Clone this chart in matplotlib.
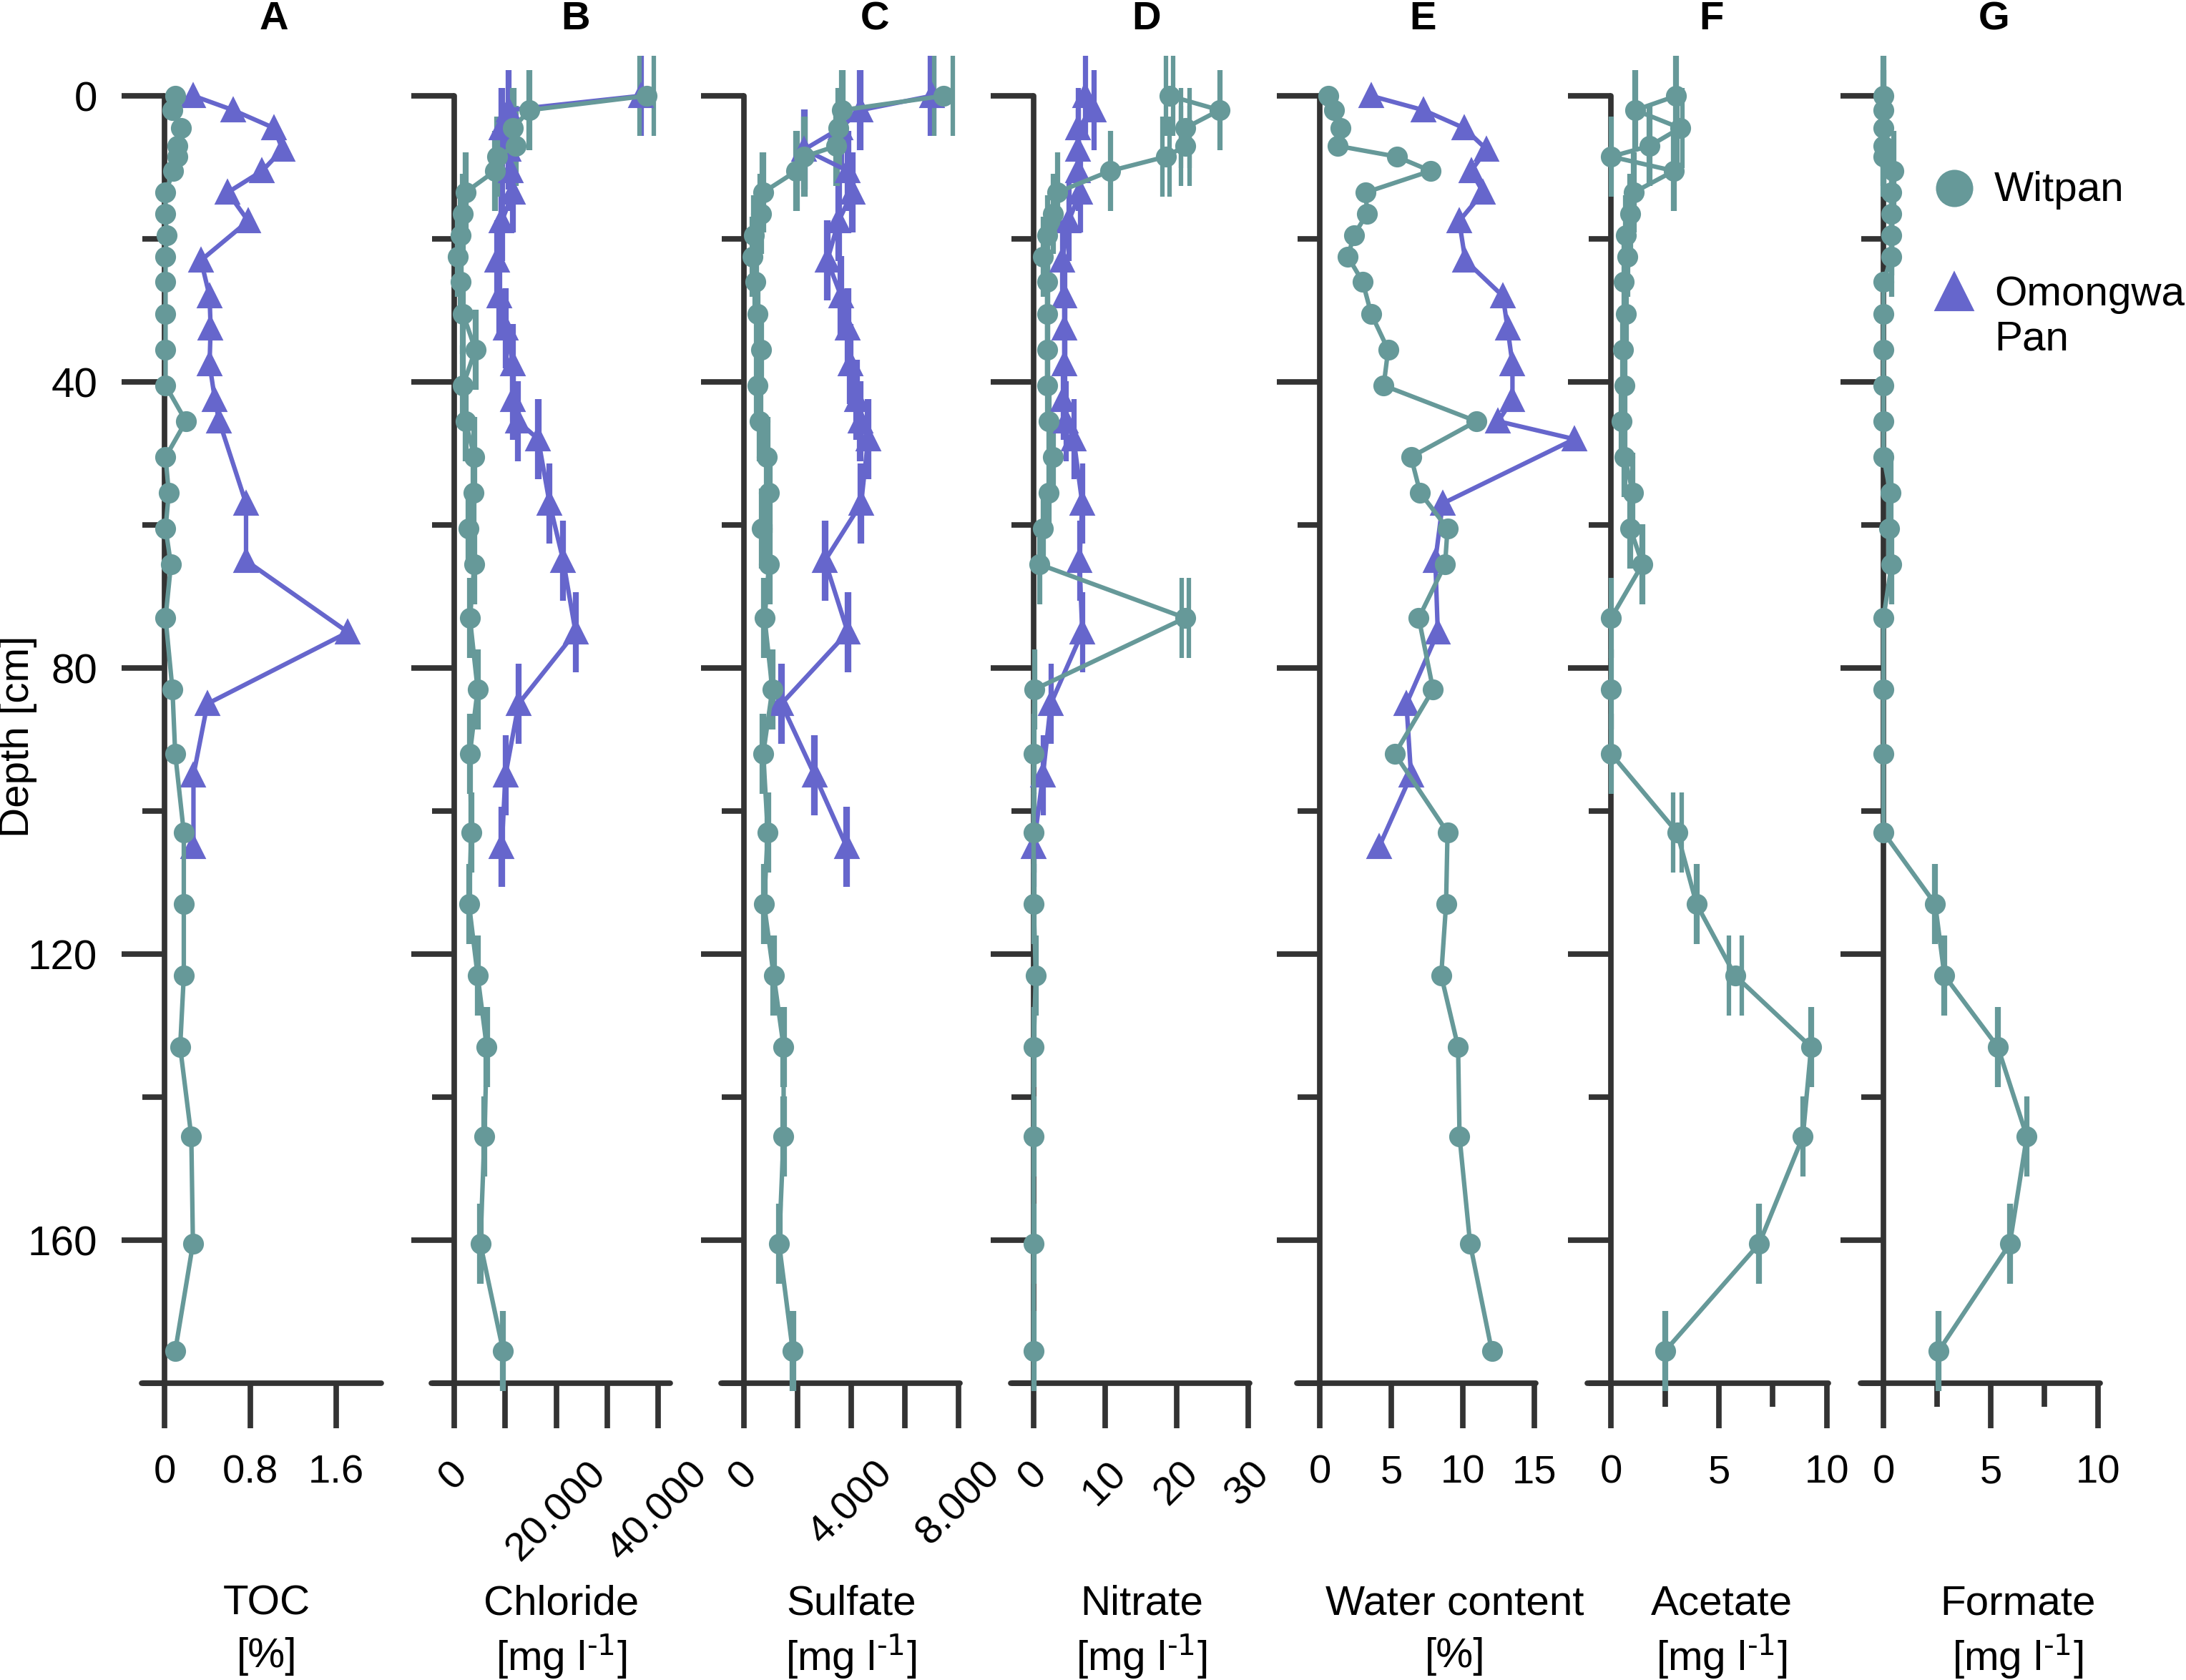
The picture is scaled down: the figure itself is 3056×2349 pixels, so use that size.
import numpy as np
import matplotlib
matplotlib.use("Agg")
import matplotlib.pyplot as plt
from matplotlib.lines import Line2D
from matplotlib.collections import LineCollection

plt.rcParams['font.family'] = ['Liberation Sans', 'DejaVu Sans']
plt.rcParams['mathtext.default'] = 'regular'

# depths [cm]
depth_wit = [0, 2, 4.5, 7, 8.5, 10.5, 13.5, 16.5, 19.5, 22.5, 26, 30.5, 35.5, 40.5, 45.5,
             50.5, 55.5, 60.5, 65.5, 73, 83, 92, 103, 113, 123, 133, 145.5, 160.5, 175.5]
depth_omo = [0, 2, 4.5, 7.5, 10.5, 13.5, 17.5, 23, 28, 32.5, 37.5, 42.5, 45.5, 48,
             57, 65, 75, 85, 95, 105]

# A  TOC [%]
toc_wit = [0.10, 0.074, 0.155, 0.117, 0.117, 0.083, 0.01, 0.01, 0.02, 0.01, 0.01, 0.01, 0.01, 0.01, 0.20,
           0.01, 0.04, 0.01, 0.06, 0.01, 0.074, 0.10, 0.18, 0.18, 0.18, 0.146, 0.25, 0.265, 0.10]
toc_omo = [0.27, 0.64, 1.02, 1.10, 0.91, 0.59, 0.78, 0.34, 0.42, 0.43, 0.42, 0.47, 0.51, np.nan,
           0.76, 0.76, 1.71, 0.40, 0.27, 0.27]

# B  Chloride [mg/l]
cl_wit = [37700, 14700, 11560, 12000, 8430, 8000, 2200, 1740, 1290, 670, 1290, 1740, 4150, 1740, 2200,
          3970, 3790, 2800, 3970, 3080, 4590, 3080, 3350, 2900, 4590, 6380, 5930, 5130, 9590]
cl_wit_err = [1340, 150, 150, 150, 150, 150, 150, 150, 150, 150, 150, 150, 150, 150, 150,
              150, 150, 150, 150, 150, 150, 150, 150, 150, 150, 150, 150, 150, 150]
cl_omo = [36570, 10660, 9320, 10660, 11100, 11550, 9320, 8430, 8880, 10040, 11550, 11550, 12440, 16460,
          18690, 21360, 23770, 12620, 10040, 9320]
cl_omo_err = [150, 150, 150, 150, 150, 150, 150, 150, 150, 150, 150, 150, 150, 150,
              150, 150, 150, 150, 150, 150]

# C  Sulfate [mg/l]
so4_wit = [7440, 3660, 3530, 3450, 2250, 1960, 720, 640, 380, 330, 430, 500, 640, 500, 600,
           860, 940, 670, 940, 770, 1060, 720, 890, 750, 1110, 1480, 1480, 1310, 1820]
so4_wit_err = [340, 40, 40, 40, 40, 40, 40, 40, 40, 40, 40, 40, 40, 40, 40,
               40, 40, 40, 40, 40, 40, 40, 40, 40, 40, 40, 40, 40, 40]
so4_omo = [7010, 4340, 3600, 2250, 3870, 4040, 3530, 3110, 3620, 3870, 3960, 4210, 4340, 4630,
           4370, 3020, 3870, 1400, 2640, 3830]
so4_omo_err = [85, 40, 40, 40, 40, 40, 40, 40, 40, 40, 40, 40, 40, 40,
               40, 40, 40, 40, 40, 40]

# D  Nitrate [mg/l]
no3_wit = [19.0, 26.0, 21.2, 21.2, 18.5, 10.7, 3.3, 2.7, 1.9, 1.3, 1.9, 1.9, 1.9, 1.9, 2.1,
           2.7, 2.1, 1.3, 0.8, 21.2, 0.1, 0, 0, 0, 0.3, 0, 0, 0, 0]
no3_wit_err = [0.48, 0.05, 0.64, 0.64, 0.48, 0.05, 0.05, 0.05, 0.05, 0.05, 0.05, 0.05, 0.05, 0.05, 0.05,
               0.05, 0.05, 0.05, 0.05, 0.48, 0.05, 0.05, 0.05, 0.05, 0.05, 0.05, 0.05, 0.05, 0.05]
no3_omo = [7.2, 8.4, 6.2, 6.2, 6.2, 6.5, 4.9, 4.0, 4.3, 4.3, 4.3, 4.1, 4.5, 5.6,
           6.8, 6.4, 6.8, 2.4, 1.3, 0.0]
no3_omo_err = [0.05, 0.05, 0.05, 0.05, 0.05, 0.05, 0.05, 0.05, 0.05, 0.05, 0.05, 0.05, 0.05, 0.05,
               0.05, 0.05, 0.05, 0.05, 0.05, 0.05]

# E  Water content [%]
wc_wit = [0.58, 1.0, 1.45, 1.25, 5.38, 7.75, 3.22, 3.3, 2.38, 1.97, 3.0, 3.60, 4.78, 4.47, 10.95,
          6.38, 7.02, 8.93, 8.76, 6.92, 7.92, 5.25, 8.93, 8.83, 8.49, 9.67, 9.77, 10.51, 12.03]
wc_omo = [3.58, 7.25, 10.08, 11.67, 10.58, 11.42, 9.75, 10.17, 12.8, 13.13, 13.47, 13.47, 12.47, 17.8,
          8.59, 8.08, 8.25, 6.06, 6.38, 4.15]

# F  Acetate [mg/l]
ace_wit = [3.02, 1.12, 3.2, 1.79, 0.0, 2.91, 1.05, 0.89, 0.67, 0.74, 0.60, 0.67, 0.56, 0.63, 0.49,
           0.63, 1.0, 0.89, 1.45, 0.0, 0.0, 0.0, 3.06, 3.96, 5.75, 9.28, 8.9, 6.87, 2.5]
ace_wit_err = [0.03, 0.03, 0.11, 0.03, 0.03, 0.03, 0.03, 0.03, 0.03, 0.03, 0.03, 0.03, 0.03, 0.03, 0.03,
               0.03, 0.03, 0.03, 0.03, 0.03, 0.03, 0.03, 0.2, 0.03, 0.3, 0.03, 0.03, 0.03, 0.03]

# G  Formate [mg/l]  (nan = no error bar drawn)
nan = np.nan
form_wit = [0, 0, 0, 0, 0, 0.48, 0.38, 0.38, 0.38, 0.38, 0, 0, 0, 0, 0,
            0, 0.32, 0.25, 0.38, 0, 0, 0, 0, 2.41, 2.84, 5.33, 6.68, 5.89, 2.57]
form_wit_err = [0.03, 0.03, 0.03, 0.03, 0.03, 0.03, 0.03, 0.03, 0.03, 0.03, nan, nan, nan, nan, nan,
                nan, 0.03, 0.03, 0.03, nan, nan, nan, nan, 0.03, 0.03, 0.03, 0.03, 0.03, 0.03]

panel_letters = ['A', 'B', 'C', 'D', 'E', 'F', 'G']
panel_names = ['TOC', 'Chloride', 'Sulfate', 'Nitrate', 'Water content', 'Acetate', 'Formate']
unit_mg = r'[mg l$^{\text{-1}}$]'
panel_units = ['[%]', unit_mg, unit_mg, unit_mg, '[%]', unit_mg, unit_mg]
xticks = [[0, 0.8, 1.6], [0, 10000, 20000, 30000, 40000], [0, 2000, 4000, 6000, 8000],
          [0, 10, 20, 30], [0, 5, 10, 15], [0, 5, 10], [0, 5, 10]]
xticklabels = [['0', '0.8', '1.6'], ['0', '', '20.000', '', '40.000'], ['0', '', '4.000', '', '8.000'],
               ['0', '10', '20', '30'], ['0', '5', '10', '15'], ['0', '5', '10'], ['0', '5', '10']]

wit_series = [(toc_wit, None), (cl_wit, cl_wit_err), (so4_wit, so4_wit_err), (no3_wit, no3_wit_err),
              (wc_wit, None), (ace_wit, ace_wit_err), (form_wit, form_wit_err)]
omo_series = [(toc_omo, None), (cl_omo, cl_omo_err), (so4_omo, so4_omo_err), (no3_omo, no3_omo_err),
              (wc_omo, None), None, None]

# layout in pixels (left, right of bottom axis), x-limits, label/title centres
W, H = 3056, 2349
DPI = 300
ax_px = [(198, 533), (603, 937), (1008, 1342), (1413, 1747), (1813, 2147), (2219, 2556), (2601, 2936)]
xlims = [(-0.213, 2.02), (-4476, 42315), (-853, 8053), (-3.2, 30.2), (-1.6, 15.1), (-1.11, 10.08), (-1.07, 10.1)]
rotated = [False, True, True, True, False, False, False]
title_x = [383, 805, 1223, 1603, 1989, 2392, 2788]
label_x = [373, 785, 1190, 1596, 2034, 2407, 2821]
y_top, y_bot = 134, 1934

teal = '#669999'
purple = '#6666cc'
dark = '#333333'
lw_ax = 1.85

fig = plt.figure(figsize=(W / DPI, H / DPI), dpi=DPI)


def draw(ax, vals, err, depth, color, marker, ms):
    v = np.array(vals, dtype=float)
    d = np.array(depth, dtype=float)
    ok = ~np.isnan(v)
    e = None if err is None else np.array(err, dtype=float)[ok]
    ax.errorbar(v[ok], d[ok], xerr=e, color=color, marker=marker, ms=ms, lw=1.5,
                elinewidth=1.5, capsize=13.5 if e is not None else 0, capthick=1.5,
                zorder=3)


for i in range(7):
    l, r = ax_px[i]
    ax = fig.add_axes([l / W, 1 - y_bot / H, (r - l) / W, (y_bot - y_top) / H])
    ax.set_xlim(*xlims[i])
    ax.set_ylim(180, 0)
    ax.patch.set_visible(False)
    for s in ['top', 'right']:
        ax.spines[s].set_visible(False)
    ax.spines['left'].set_position(('data', 0))
    for s in ['left', 'bottom']:
        ax.spines[s].set_linewidth(lw_ax)
        ax.spines[s].set_color(dark)
        ax.spines[s].set_capstyle('round')

    ax.set_yticks([0, 40, 80, 120, 160])
    ax.set_yticks([20, 60, 100, 140, 180], minor=True)
    ax.tick_params(axis='y', which='major', length=14.5, width=lw_ax, color=dark,
                   pad=8, labelsize=14)
    ax.tick_params(axis='y', which='minor', length=7.5, width=lw_ax, color=dark)
    if i > 0:
        ax.tick_params(axis='y', which='both', labelleft=False)

    ax.set_xticks(xticks[i])
    ax.set_xticklabels(xticklabels[i], rotation=45 if rotated[i] else 0)
    ax.tick_params(axis='x', which='major', length=15, width=lw_ax, color=dark,
                   pad=9, labelsize=13.5)
    if i >= 5:
        ax.set_xticks([2.5, 7.5], minor=True)
        ax.tick_params(axis='x', which='minor', length=7.8, width=lw_ax, color=dark)

    if omo_series[i] is not None:
        draw(ax, omo_series[i][0], omo_series[i][1], depth_omo, purple, '^', 7)
    draw(ax, wit_series[i][0], wit_series[i][1], depth_wit, teal, 'o', 6)
    for art in ax.get_children():
        if isinstance(art, (Line2D, LineCollection)):
            art.set_clip_on(False)

    fig.text(title_x[i] / W, 1 - 27 / H, panel_letters[i], ha='center', va='center',
             fontsize=13.5, fontweight='bold')
    fig.text(label_x[i] / W, 1 - 2243 / H, panel_names[i], ha='center', va='center', fontsize=14)
    fig.text(label_x[i] / W, 1 - 2316 / H, panel_units[i], ha='center', va='center', fontsize=14)

fig.text(25 / W, 1 - 1030 / H, 'Depth [cm]', rotation=90, ha='center', va='center', fontsize=14)

# legend
fig.add_artist(Line2D([2732 / W], [1 - 263 / H], marker='o', ms=11.5, color=teal, lw=0,
                      transform=fig.transFigure))
fig.add_artist(Line2D([2732 / W], [1 - 408 / H], marker='^', ms=12, color=purple, lw=0,
                      transform=fig.transFigure))
fig.text(2788 / W, 1 - 266 / H, 'Witpan', ha='left', va='center', fontsize=14)
fig.text(2788 / W, 1 - 443 / H, 'Omongwa\nPan', ha='left', va='center', fontsize=14,
         linespacing=1.2)

fig.savefig('out.png', dpi=DPI)
